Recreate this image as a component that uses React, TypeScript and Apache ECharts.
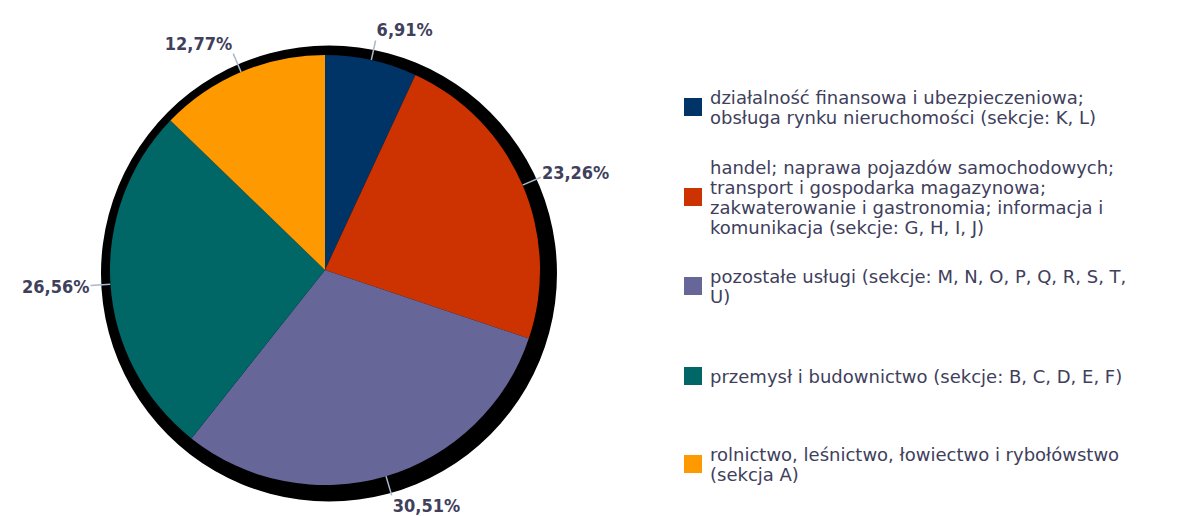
import React, { useEffect, useRef } from "react";
import * as echarts from "echarts";

const categories = [
  "działalność finansowa i ubezpieczeniowa; obsługa rynku nieruchomości (sekcje: K, L)",
  "handel; naprawa pojazdów samochodowych; transport i gospodarka magazynowa; zakwaterowanie i gastronomia; informacja i komunikacja (sekcje: G, H, I, J)",
  "pozostałe usługi (sekcje: M, N, O, P, Q, R, S, T, U)",
  "przemysł i budownictwo (sekcje: B, C, D, E, F)",
  "rolnictwo, leśnictwo, łowiectwo i rybołówstwo (sekcja A)",
];

const legendLabels = [
  "działalność finansowa i ubezpieczeniowa;\nobsługa rynku nieruchomości (sekcje: K, L)",
  "handel; naprawa pojazdów samochodowych;\ntransport i gospodarka magazynowa;\nzakwaterowanie i gastronomia; informacja i\nkomunikacja (sekcje: G, H, I, J)",
  "pozostałe usługi (sekcje: M, N, O, P, Q, R, S, T,\nU)",
  "przemysł i budownictwo (sekcje: B, C, D, E, F)",
  "rolnictwo, leśnictwo, łowiectwo i rybołówstwo\n(sekcja A)",
];

const values = [6.91, 23.26, 30.51, 26.56, 12.77];

const colors = ["#003366", "#cc3300", "#666699", "#006666", "#ff9900"];

const legendCenters = [107, 197, 286, 376, 464];

const CX = 325;
const CY = 270;
const R = 215;
const TEXT_COLOR = "#40405c";

export default function App() {
  const ref = useRef<HTMLDivElement>(null);

  useEffect(() => {
    if (!ref.current) return;
    const chart = echarts.init(ref.current, undefined, { renderer: "svg" });

    const legends = categories.map((name, i) => {
      const lines = legendLabels[i].split("\n").length;
      const h = Math.max(18, lines * 20);
      return {
        orient: "vertical",
        left: 684,
        top: legendCenters[i] - h / 2,
        padding: 0,
        itemWidth: 18,
        itemHeight: 18,
        icon: "rect",
        selectedMode: false,
        data: [name],
        formatter: () => legendLabels[i],
        textStyle: {
          fontFamily: "DejaVu Sans",
          fontSize: 18,
          lineHeight: 20,
          color: TEXT_COLOR,
          padding: [0, 0, 0, 3],
        },
      };
    });

    const option: any = {
      animation: false,
      legend: legends,
      series: [
        {
          type: "pie",
          silent: true,
          center: [CX + 4, CY + 3.5],
          radius: R + 13,
          label: { show: false },
          labelLine: { show: false },
          itemStyle: { color: "#000000" },
          data: [{ value: 1, name: "__shadow__" }],
          z: 1,
        },
        {
          type: "pie",
          center: [CX, CY],
          radius: R,
          startAngle: 90,
          clockwise: true,
          z: 2,
          avoidLabelOverlap: false,
          emphasis: { disabled: true },
          itemStyle: { borderWidth: 0 },
          label: {
            show: true,
            position: "outside",
            fontFamily: "DejaVu Sans Condensed, DejaVu Sans, sans-serif",
            fontWeight: "bold",
            fontSize: 18,
            color: TEXT_COLOR,
            formatter: (p: any) => p.value.toFixed(2).replace(".", ",") + "%",
          },
          labelLine: {
            show: true,
            length: 20,
            length2: 0,
            lineStyle: { color: "#a9b8cc", width: 1.5 },
          },
          labelLayout: (p: any) => {
            const pts = p.labelLinePoints;
            if (!pts || !pts.length) return {};
            const end = pts[pts.length - 1];
            const dx = end[0] - CX;
            const dy = end[1] - CY;
            const d = Math.hypot(dx, dy) || 1;
            const c = dx / d;
            const s = dy / d;
            const h = p.labelRect.height;
            return {
              x: end[0] + (c >= 0 ? 1 : -1),
              y: end[1] + s * (h / 2 + 2),
              align: c >= 0 ? "left" : "right",
              verticalAlign: "middle",
              labelLinePoints: pts,
            };
          },
          data: categories.map((name, i) => ({
            name,
            value: values[i],
            itemStyle: { color: colors[i] },
          })),
        },
      ],
    };

    chart.setOption(option);
    return () => chart.dispose();
  }, []);

  return (
    <div
      ref={ref}
      style={{ position: "fixed", left: 0, top: 0, width: 1190, height: 516, background: "#ffffff" }}
    />
  );
}
